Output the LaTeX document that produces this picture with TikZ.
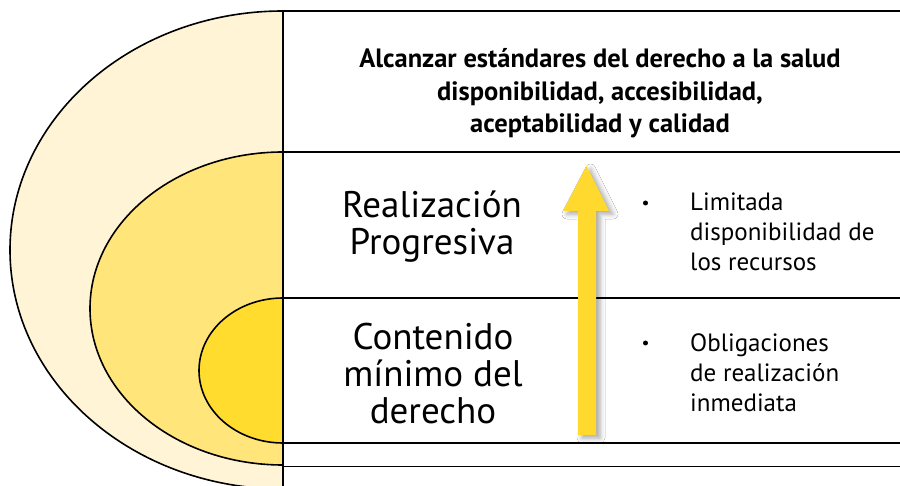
\documentclass[tikz,border=0pt]{standalone}
\usepackage{fontspec}
\setmainfont{PT Sans}
\usetikzlibrary{shadows.blur}
\definecolor{outerY}{HTML}{FFF5D6}
\definecolor{midY}{HTML}{FFE57A}
\definecolor{innerY}{HTML}{FFDC2E}
\definecolor{arrowY}{HTML}{FFD92E}
\tikzset{
  rim/.style={draw=black, line width=1.6pt},
  sep/.style={draw=black, line width=1.6pt},
  title/.style={font=\bfseries\fontsize{26.5}{32.5}\selectfont, align=center},
  big/.style={font=\fontsize{37}{37}\selectfont, align=center},
  item/.style={font=\fontsize{25}{30}\selectfont, align=left, anchor=north west, inner sep=0pt},
  dot/.style={circle, fill=black, inner sep=0pt, minimum size=5pt},
}
\begin{document}
\begin{tikzpicture}[x=1pt,y=-1pt]
\useasboundingbox (0,0) rectangle (900,486);
\clip (0,0) rectangle (900,486);
\fill[white] (0,0) rectangle (900,486);
% nested half ellipses
\path[rim, fill=outerY] (283,11) arc[start angle=-90, end angle=-270, x radius=273, y radius=239] -- cycle;
\path[rim, fill=midY] (283,152) arc[start angle=-90, end angle=-270, x radius=193, y radius=156.5] -- cycle;
\path[rim, fill=innerY] (283,298) arc[start angle=-90, end angle=-270, x radius=84, y radius=72.5] -- cycle;
% frame lines
\draw[sep] (283,11) -- (283,490);
\draw[sep] (283,11) -- (902,11);
\draw[sep] (283,152) -- (902,152);
\draw[sep] (283,298) -- (902,298);
\draw[sep] (283,443) -- (902,443);
\draw[sep] (283,466.5) -- (902,466.5);
% arrow
\fill[arrowY, blur shadow={shadow xshift=4pt, shadow yshift=-3pt, shadow opacity=35, shadow blur radius=5pt}]
  (578,435) -- (578,211) -- (563,211) -- (586.5,166) -- (609,211) -- (596,211) -- (596,435) -- cycle;
% texts
\node[title] (t) at (600,93.5) {Alcanzar estándares del derecho a la salud\\disponibilidad, accesibilidad,\\aceptabilidad y calidad};
\node[big] (rp) at (432,227) {Realización\\Progresiva};
\node[big] (cm) at (433,374) {Contenido\\mínimo del\\derecho};
\node[dot] (b1) at (645.5,203) {};
\node[dot] (b2) at (645.5,343) {};
\node[item] (l1) at (690,193) {Limitada\\disponibilidad de\\los recursos};
\node[item] (l2) at (690,333) {Obligaciones\\de realización\\inmediata};
\end{tikzpicture}
\end{document}
